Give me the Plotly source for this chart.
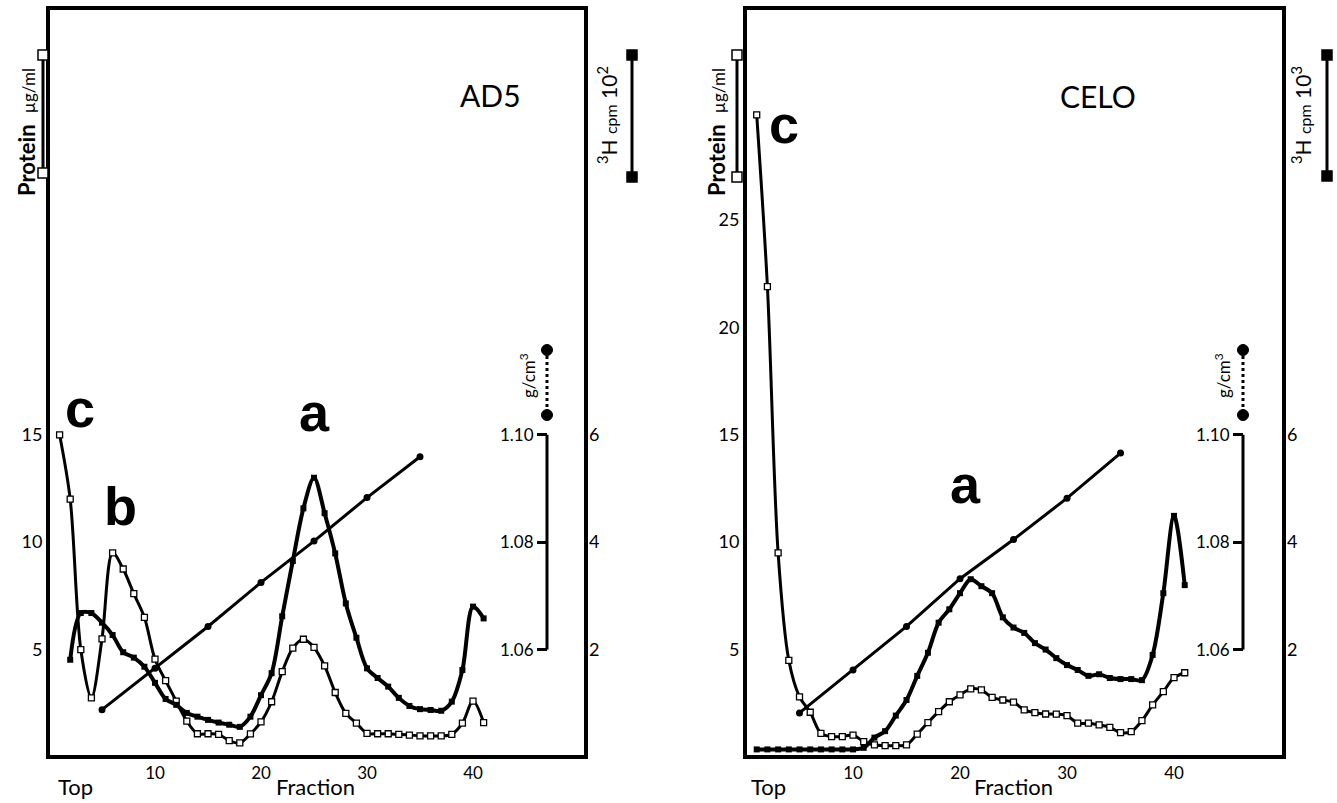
import plotly.graph_objects as go

W, H = 1337, 803
FONT = "Lato"

# ---------------- data ----------------
ad5_protein_fraction = list(range(1, 42))
ad5_protein = [15.0, 12.0, 5.0, 2.75, 5.5, 9.5, 8.75, 7.6, 6.5, 4.55,
               3.55, 2.6, 1.67, 1.08, 1.08, 1.05, 0.76, 0.65, 1.07, 1.63,
               2.57, 3.97, 5.07, 5.48, 5.1, 4.24, 3.0, 2.03, 1.57, 1.1,
               1.08, 1.08, 1.05, 1.02, 0.98, 0.98, 0.98, 1.05, 1.57, 2.6, 1.6]
ad5_cpm_fraction = list(range(2, 42))
ad5_cpm = [1.81, 2.68, 2.68, 2.5, 2.27, 1.95, 1.85, 1.68, 1.38, 1.08,
           0.97, 0.82, 0.75, 0.69, 0.64, 0.6, 0.56, 0.75, 1.15, 1.56,
           2.62, 3.65, 4.63, 5.2, 4.54, 3.79, 2.86, 2.22, 1.65, 1.47,
           1.31, 1.1, 0.95, 0.89, 0.875, 0.86, 1.03, 1.62, 2.8, 2.58]
density_fraction = [5, 10, 15, 20, 25, 30, 35]
ad5_density = [1.0488, 1.0565, 1.0643, 1.0725, 1.0802, 1.0883, 1.0959]

celo_protein_fraction = list(range(1, 42))
celo_protein = [29.9, 21.9, 9.5, 4.5, 2.8, 2.08, 1.1, 0.95, 0.95, 1.02,
                0.71, 0.56, 0.53, 0.53, 0.56, 1.06, 1.6, 2.11, 2.57, 2.89,
                3.17, 3.12, 2.77, 2.65, 2.55, 2.19, 2.06, 2.0, 1.99, 1.92,
                1.57, 1.57, 1.49, 1.38, 1.13, 1.18, 1.69, 2.42, 3.04, 3.69, 3.92]
celo_cpm_fraction = list(range(1, 42))
celo_cpm = [0.14, 0.14, 0.14, 0.14, 0.14, 0.14, 0.14, 0.14, 0.14, 0.14,
            0.17, 0.36, 0.48, 0.77, 1.06, 1.51, 1.94, 2.5, 2.75, 3.05,
            3.31, 3.18, 3.05, 2.6, 2.41, 2.31, 2.12, 2.0, 1.84, 1.71,
            1.62, 1.51, 1.54, 1.47, 1.45, 1.45, 1.43, 1.9, 3.05, 4.49, 3.2]
celo_density = [1.0482, 1.0562, 1.0643, 1.0732, 1.0805, 1.0882, 1.0966]

x_ticks = [10, 20, 30, 40]
protein_ticks_ad5 = [5, 10, 15]
protein_ticks_celo = [5, 10, 15, 20, 25]
cpm_ticks = [2, 4, 6]
density_ticks = [1.06, 1.08, 1.10]
density_ticktext = ["1.06", "1.08", "1.10"]

# ---------------- scales ----------------
PROT_RANGE = [0.09, 34.78]
CPM_RANGE = [r / 2.5 for r in PROT_RANGE]
DENS_RANGE = [1.04 + 0.004 * r for r in PROT_RANGE]
YDOM = [1 - 755 / H, 1 - 10 / H]


def X(px):
    return px / W


def Y(py):
    return 1 - py / H


fig = go.Figure()


def add_panel(xa, ya_p, ya_c, ya_d, fp, prot, fc, cpm, dens):
    fig.add_trace(go.Scatter(
        x=fp, y=prot, xaxis=xa, yaxis=ya_p, mode="lines+markers",
        line=dict(color="black", width=3, shape="spline", smoothing=0.9),
        marker=dict(symbol="square", size=6, color="white",
                    line=dict(color="black", width=1.3)),
        showlegend=False, hoverinfo="skip"))
    fig.add_trace(go.Scatter(
        x=fc, y=cpm, xaxis=xa, yaxis=ya_c, mode="lines+markers",
        line=dict(color="black", width=4, shape="spline", smoothing=0.9),
        marker=dict(symbol="square", size=6, color="black"),
        showlegend=False, hoverinfo="skip"))
    fig.add_trace(go.Scatter(
        x=density_fraction, y=dens, xaxis=xa, yaxis=ya_d, mode="lines+markers",
        line=dict(color="black", width=3),
        marker=dict(symbol="circle", size=7, color="black"),
        showlegend=False, hoverinfo="skip"))


add_panel("x", "y", "y2", "y3", ad5_protein_fraction, ad5_protein,
          ad5_cpm_fraction, ad5_cpm, ad5_density)
add_panel("x2", "y4", "y5", "y6", celo_protein_fraction, celo_protein,
          celo_cpm_fraction, celo_cpm, celo_density)

tickfont = dict(size=18, family=FONT, color="black")
xtickfont = dict(size=17, family=FONT, color="black")
frame = dict(showline=True, linecolor="black", linewidth=4, mirror=True,
             showgrid=False, zeroline=False, ticks="")
plain = dict(showline=False, showgrid=False, zeroline=False)
dens_font = dict(size=17, family=FONT, color="black")

layout = dict(
    width=W, height=H, autosize=False,
    margin=dict(l=0, r=0, t=0, b=0),
    paper_bgcolor="white", plot_bgcolor="white",
    font=dict(family=FONT, color="black"),
    xaxis=dict(domain=[X(50), X(584)], range=[0.094, 50.47], anchor="y",
               tickvals=x_ticks, tickfont=xtickfont, **frame),
    xaxis2=dict(domain=[X(747), X(1282)], range=[0.093, 50.09], anchor="y4",
                tickvals=x_ticks, tickfont=xtickfont, **frame),
    yaxis=dict(domain=YDOM, range=PROT_RANGE, anchor="x",
               tickvals=protein_ticks_ad5, tickfont=tickfont, **frame),
    yaxis2=dict(overlaying="y", anchor="x", side="right", range=CPM_RANGE,
                tickvals=cpm_ticks, ticks="", ticklabelstandoff=4,
                tickfont=tickfont, **plain),
    yaxis3=dict(overlaying="y", anchor="free", position=X(547), side="left",
                range=DENS_RANGE, tickvals=density_ticks,
                ticktext=density_ticktext, ticks="outside", ticklen=10,
                tickwidth=3, tickcolor="black", tickfont=dens_font, **plain),
    yaxis4=dict(domain=YDOM, range=PROT_RANGE, anchor="x2",
                tickvals=protein_ticks_celo, tickfont=tickfont, **frame),
    yaxis5=dict(overlaying="y4", anchor="x2", side="right", range=CPM_RANGE,
                tickvals=cpm_ticks, ticks="", ticklabelstandoff=4,
                tickfont=tickfont, **plain),
    yaxis6=dict(overlaying="y4", anchor="free", position=X(1243), side="left",
                range=DENS_RANGE, tickvals=density_ticks,
                ticktext=density_ticktext, ticks="outside", ticklen=10,
                tickwidth=3, tickcolor="black", tickfont=dens_font, **plain),
)
fig.update_layout(**layout)

shapes = []

# density axis spines (only between 1.06 and 1.10)
for xp, yref in [(547, "y3"), (1243, "y6")]:
    shapes.append(dict(type="line", xref="paper", yref=yref,
                       x0=X(xp), x1=X(xp), y0=1.06, y1=1.10,
                       line=dict(color="black", width=3)))


def key_bar(xp, y0p, y1p, kind):
    shapes.append(dict(type="line", xref="paper", yref="paper",
                       x0=X(xp), x1=X(xp), y0=Y(y0p), y1=Y(y1p),
                       line=dict(color="black", width=3,
                                 dash="dot" if kind == "density" else "solid")))
    for yp in (y0p, y1p):
        if kind == "density":
            r = 5.5
            shapes.append(dict(type="circle", xref="paper", yref="paper",
                               x0=X(xp - r), x1=X(xp + r), y0=Y(yp - r), y1=Y(yp + r),
                               fillcolor="black", line=dict(color="black", width=1)))
        else:
            r = 5
            shapes.append(dict(type="rect", xref="paper", yref="paper",
                               x0=X(xp - r), x1=X(xp + r), y0=Y(yp - r), y1=Y(yp + r),
                               fillcolor="white" if kind == "protein" else "black",
                               line=dict(color="black", width=1.5)))


key_bar(43, 55, 173, "protein")
key_bar(632, 55, 177, "cpm")
key_bar(547, 350, 415, "density")
key_bar(737, 55, 177, "protein")
key_bar(1327, 55, 176, "cpm")
key_bar(1243, 350, 415, "density")

fig.update_layout(shapes=shapes)

ann = []


def text(xp, yp, s, size, family=FONT, angle=0):
    ann.append(dict(xref="paper", yref="paper", x=X(xp), y=Y(yp), text=s,
                    showarrow=False, textangle=angle, xanchor="center",
                    yanchor="middle",
                    font=dict(size=size, family=family, color="black")))


protein_label = "<b>Protein</b>  <span style='font-size:17px'>µg/ml</span>"
text(26, 132, protein_label, 22, angle=-90)
text(716, 132, protein_label, 22, angle=-90)
text(607, 115, "<sup>3</sup>H <span style='font-size:16px'>cpm</span> 10<sup>2</sup>", 21, angle=-90)
text(1301, 115, "<sup>3</sup>H <span style='font-size:16px'>cpm</span> 10<sup>3</sup>", 21, angle=-90)
text(527, 376, "g/cm<sup>3</sup>", 17, angle=-90)
text(1222, 376, "g/cm<sup>3</sup>", 17, angle=-90)

text(490, 95, "AD5", 30)
text(1098, 96, "CELO", 30)

BOLD = "Liberation Sans"
text(80, 408, "<b>c</b>", 54, family=BOLD)
text(120, 506, "<b>b</b>", 54, family=BOLD)
text(314, 412, "<b>a</b>", 54, family=BOLD)
text(784, 124, "<b>c</b>", 54, family=BOLD)
text(965, 484, "<b>a</b>", 54, family=BOLD)

text(75, 786, "Top", 22)
text(315, 786, "Fraction", 22)
text(768, 786, "Top", 22)
text(1013, 786, "Fraction", 22)

fig.update_layout(annotations=ann)

fig.write_html("out.html")
